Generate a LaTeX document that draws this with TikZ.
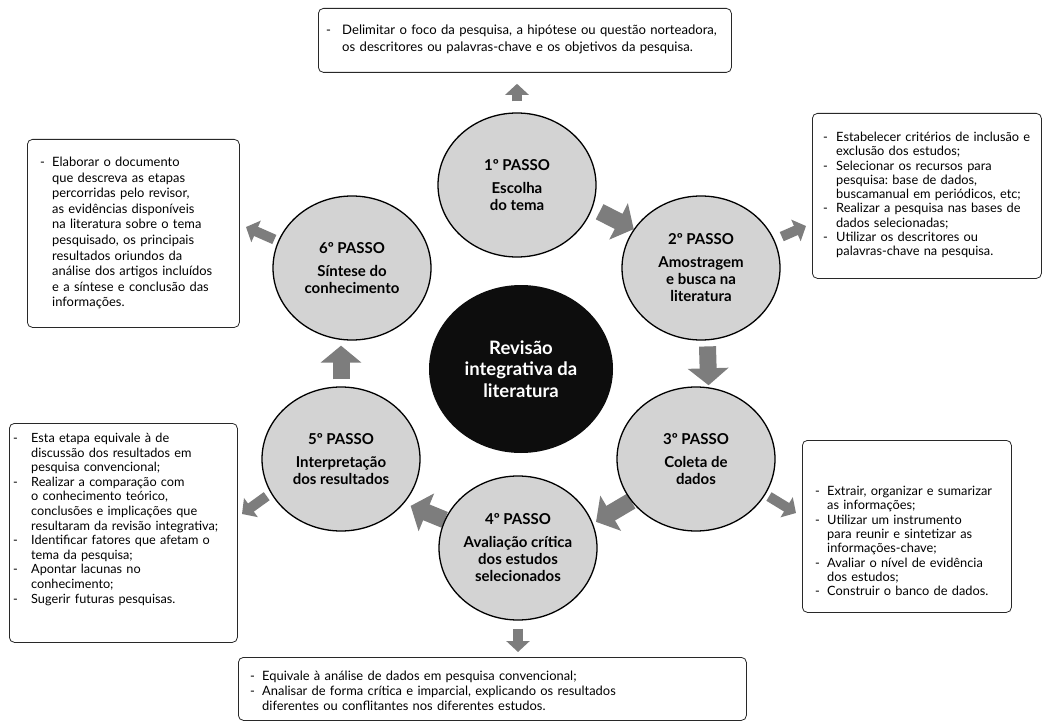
\documentclass[tikz,border=0pt]{standalone}
\usepackage{fontspec}
\setmainfont{Lato}
\usetikzlibrary{shapes.geometric,arrows.meta,calc}
\definecolor{cfill}{RGB}{211,211,211}
\definecolor{agray}{RGB}{125,125,125}
\definecolor{bline}{RGB}{40,40,40}
\pgfdeclarelayer{bg}
\pgfsetlayers{bg,main}
\frenchspacing
\newlength\hw
\newcommand\li{\makebox[\hw][l]{-}}
\newcommand\lc{\hspace*{\hw}}
\tikzset{
  stepc/.style={ellipse, draw=black, line width=1.3pt, fill=cfill,
    minimum width=158pt, minimum height=144pt, inner xsep=-8pt, inner ysep=0pt,
    align=center, font=\bfseries\fontsize{15}{17}\selectfont},
  hub/.style={ellipse, fill=black!95, minimum width=184pt, minimum height=168pt,
    inner xsep=-8pt, inner ysep=0pt, align=center, text=white,
    font=\bfseries\fontsize{18.5}{21.5}\selectfont},
  infobox/.style={draw=bline, line width=0.8pt, rounded corners=5pt, anchor=north west, inner sep=0pt},
  boxtext/.style={anchor=base west, inner sep=0pt, text width=420pt, align=left},
  bigarr/.style={draw=agray, line width=17pt, -{Triangle[width=40pt,length=17pt]}},
  smallarr/.style={draw=agray, line width=10pt, -{Triangle[width=23pt,length=11pt]}},
}
\begin{document}
\begin{tikzpicture}[x=1pt,y=-1pt]
\useasboundingbox (0,0) rectangle (1043,727);

% step circles
\node[stepc] (c1) at (517,185) {1º PASSO\\[6pt]Escolha\\do tema};
\node[stepc] (c2) at (701,268) {2º PASSO\\[6pt]Amostragem\\e busca na\\literatura};
\node[stepc] (c3) at (696,459) {3º PASSO\\[6pt]Coleta de\\dados};
\node[stepc] (c4) at (518,548) {4º PASSO\\[6pt]Avaliação crítica\\dos estudos\\selecionados};
\node[stepc] (c5) at (341,459) {5º PASSO\\[6pt]Interpretação\\dos resultados};
\node[stepc] (c6) at (352,268) {6º PASSO\\[6pt]Síntese do\\conhecimento};
\node[hub] (hub) at (521,369) {Revisão\\integrativa da\\literatura};

% boxes
\node[infobox, minimum width=413pt, minimum height=64pt] (b1) at (318,8) {};
\node[infobox, minimum width=229pt, minimum height=165pt] (b2) at (812,113) {};
\node[infobox, minimum width=209pt, minimum height=172pt] (b3) at (802,440) {};
\node[infobox, minimum width=508pt, minimum height=63pt] (b4) at (238,657) {};
\node[infobox, minimum width=228pt, minimum height=219pt] (b5) at (9,423) {};
\node[infobox, minimum width=212pt, minimum height=188pt] (b6) at (27,139) {};

% box texts
\node[boxtext, font=\fontsize{13.1}{17}\selectfont] (x1) at (326,35) {\setlength\hw{16pt}%
\li Delimitar o foco da pesquisa, a hipótese ou questão norteadora,\\
\lc os descritores ou palavras-chave e os objetivos da pesquisa.};
\node[boxtext, font=\fontsize{12.8}{14.3}\selectfont] (x2) at (823,141.5) {\setlength\hw{13pt}%
\li Estabelecer critérios de inclusão e\\
\lc exclusão dos estudos;\\
\li Selecionar os recursos para\\
\lc pesquisa: base de dados,\\
\lc buscamanual em periódicos, etc;\\
\li Realizar a pesquisa nas bases de\\
\lc dados selecionadas;\\
\li Utilizar os descritores ou\\
\lc palavras-chave na pesquisa.};
\node[boxtext, font=\fontsize{12.8}{14.3}\selectfont] (x3) at (815,495.5) {\setlength\hw{12pt}%
\li Extrair, organizar e sumarizar\\
\lc as informações;\\
\li Utilizar um instrumento\\
\lc para reunir e sintetizar as\\
\lc informações-chave;\\
\li Avaliar o nível de evidência\\
\lc dos estudos;\\
\li Construir o banco de dados.};
\node[boxtext, font=\fontsize{12.9}{15}\selectfont] (x4) at (250,680.5) {\setlength\hw{12pt}%
\li Equivale à análise de dados em pesquisa convencional;\\
\li Analisar de forma crítica e imparcial, explicando os resultados\\
\lc diferentes ou conflitantes nos diferentes estudos.};
\node[boxtext, font=\fontsize{12.7}{14.6}\selectfont] (x5) at (13,442.5) {\setlength\hw{18pt}%
\li Esta etapa equivale à de\\
\lc discussão dos resultados em\\
\lc pesquisa convencional;\\
\li Realizar a comparação com\\
\lc o conhecimento teórico,\\
\lc conclusões e implicações que\\
\lc resultaram da revisão integrativa;\\
\li Identificar fatores que afetam o\\
\lc tema da pesquisa;\\
\li Apontar lacunas no\\
\lc conhecimento;\\
\li Sugerir futuras pesquisas.};
\node[boxtext, font=\fontsize{12.9}{15.6}\selectfont] (x6) at (40,166.5) {\setlength\hw{12pt}%
\li Elaborar o documento\\
\lc que descreva as etapas\\
\lc percorridas pelo revisor,\\
\lc as evidências disponíveis\\
\lc na literatura sobre o tema\\
\lc pesquisado, os principais\\
\lc resultados oriundos da\\
\lc análise dos artigos incluídos\\
\lc e a síntese e conclusão das\\
\lc informações.};

% free arrow tips
\coordinate (t2) at (806,226);
\coordinate (t3) at (796,513);
\coordinate (t5) at (242,514);
\coordinate (t6) at (246,227);

\begin{pgfonlayer}{bg}
% cycle arrows
\draw[bigarr, shorten <=8pt] (c1.-17) -- (c2.150);
\draw[bigarr, shorten <=6pt, shorten >=2pt] (c2.-85) -- (c3.80);
\draw[bigarr, shorten >=3.5pt] (c3.213) -- (c4.18);
\draw[bigarr, shorten >=7pt] (c4.159) -- (c5.-35);
\draw[bigarr, shorten <=7pt, shorten >=5pt] (c5.north) -- (c5.north |- c6.south);
% outward arrows
\draw[smallarr, shorten <=11pt, shorten >=11pt] (c1.north) -- (c1.north |- b1.south);
\draw[smallarr, shorten <=8pt] (c2.21) -- (t2);
\draw[smallarr, shorten <=4pt] (c3.-27) -- (t3);
\draw[smallarr, shorten <=8pt, shorten >=5pt] (c4.south) -- (c4.south |- b4.north);
\draw[smallarr, shorten <=5pt] (c5.206) -- (t5);
\draw[smallarr, shorten <=4pt] (c6.160) -- (t6);
\end{pgfonlayer}
\end{tikzpicture}
\end{document}
